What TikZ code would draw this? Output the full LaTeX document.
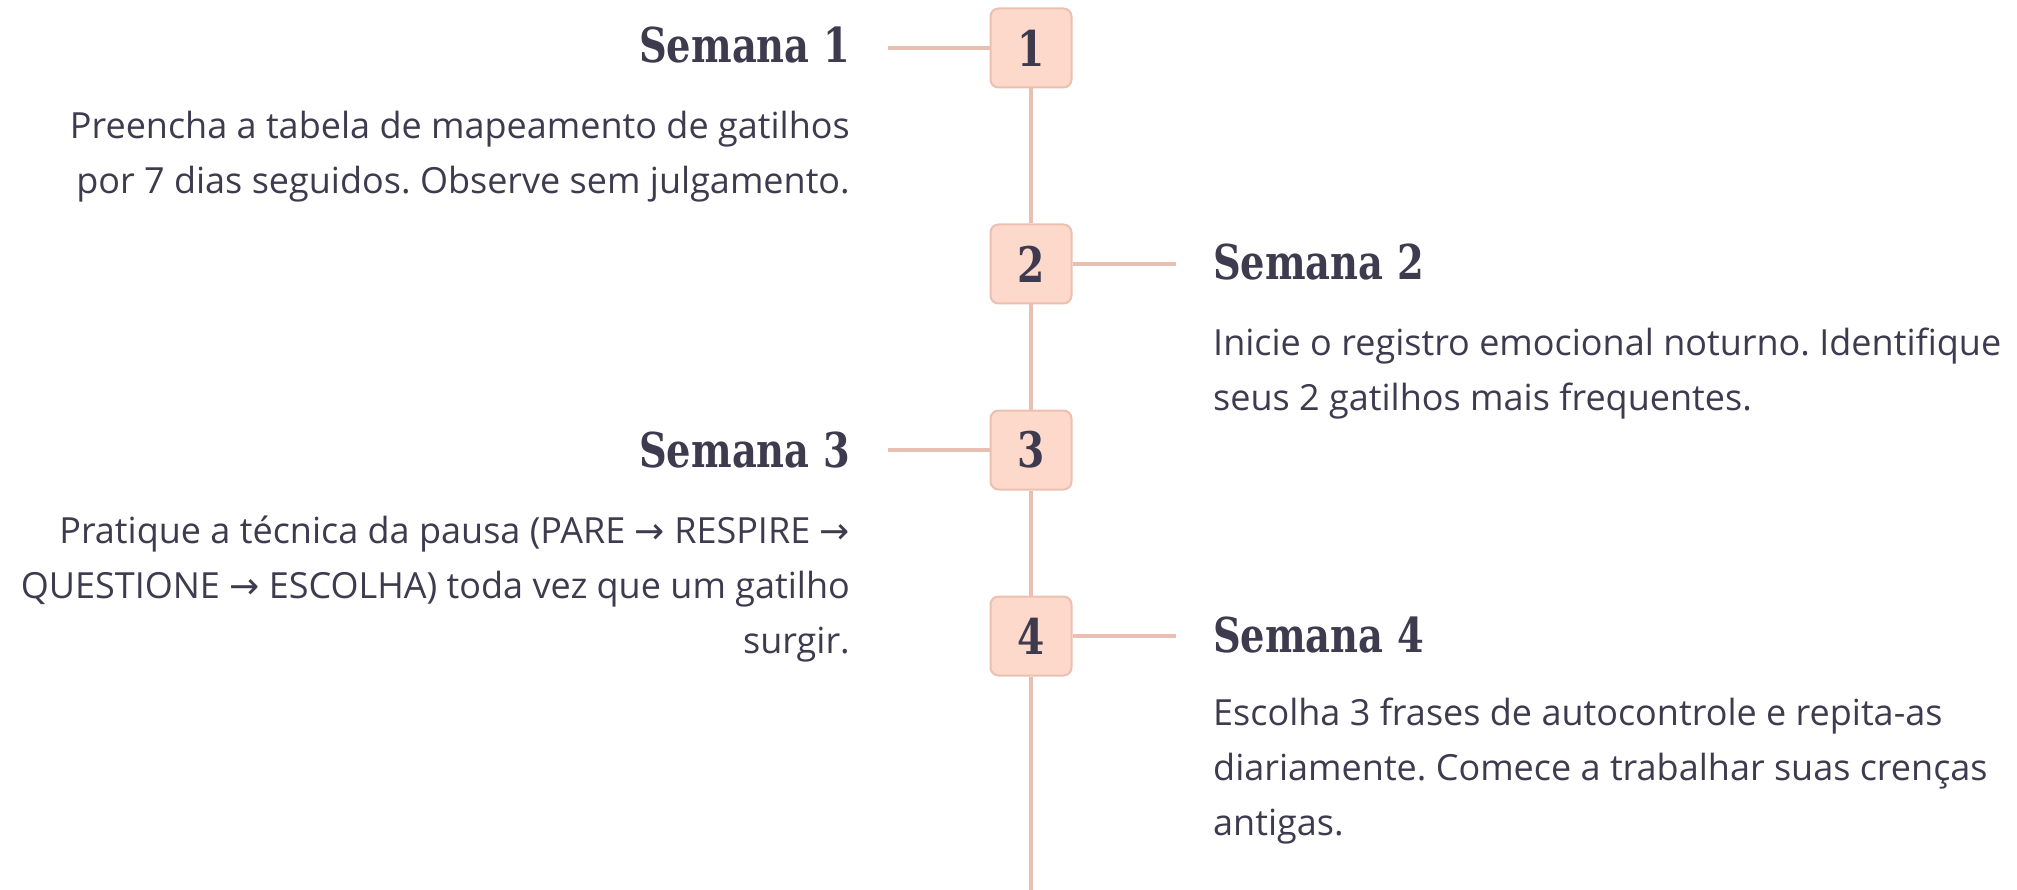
\documentclass[tikz,border=0pt]{standalone}
\usepackage{fontspec}
\setmainfont{Open Sans}
\newfontfamily\headfont[FakeStretch=0.8]{DejaVu Serif}
\newfontfamily\arrowfont{DejaVu Sans}
\newcommand{\goto}{{\arrowfont\fontsize{36}{55}\selectfont →}}
\frenchspacing
\usetikzlibrary{positioning}
\definecolor{ink}{HTML}{3E3B4F}
\definecolor{peach}{HTML}{FDD9CB}
\definecolor{peachline}{HTML}{E8BFB0}
\definecolor{peachedge}{HTML}{EBC0B0}

\tikzset{
  week/.style={rectangle, rounded corners=8pt, draw=peachedge, line width=2pt,
    fill=peach, minimum width=81pt, minimum height=79pt, inner sep=0pt,
    text=ink, font=\headfont\bfseries\fontsize{49}{49}\selectfont},
  title/.style={text=ink, inner sep=0pt,
    font=\headfont\bfseries\fontsize{48}{48}\selectfont},
  body/.style={text=ink, inner sep=0pt, font=\fontsize{36}{55}\selectfont},
  link/.style={draw=peachline, line width=4pt},
}

\begin{document}
\begin{tikzpicture}[x=1pt, y=-1pt]
  \useasboundingbox (0,0) rectangle (2017,890);
  % week boxes on the spine
  \node[week] (w1) at (1031,48) {1};
  \node[week] (w2) at (1031,264) {2};
  \node[week] (w3) at (1031,450) {3};
  \node[week] (w4) at (1031,636) {4};
  \coordinate (end) at (1031,890);
  \coordinate (c1) at (888,48);
  \coordinate (c2) at (1176,264);
  \coordinate (c3) at (888,450);
  \coordinate (c4) at (1176,636);
  % spine and ticks
  \draw[link] (w1) -- (w2);
  \draw[link] (w2) -- (w3);
  \draw[link] (w3) -- (w4);
  \draw[link] (w4) -- (end);
  \draw[link] (c1) -- (w1);
  \draw[link] (w2) -- (c2);
  \draw[link] (c3) -- (w3);
  \draw[link] (w4) -- (c4);
  % titles
  \node[title, anchor=base east] (t1) at (850,63) {Semana 1};
  \node[title, anchor=base west] (t2) at (1213,280) {Semana 2};
  \node[title, anchor=base east] (t3) at (850,467) {Semana 3};
  \node[title, anchor=base west] (t4) at (1213,652) {Semana 4};
  % texts (base = last line)
  \node[body, anchor=base east, align=right] (d1) at (850,194)
    {Preencha a tabela de mapeamento de gatilhos\\por 7 dias seguidos. Observe sem julgamento.};
  \node[body, anchor=base west, align=left] (d2) at (1213,410)
    {Inicie o registro emocional noturno. Identifique\\seus 2 gatilhos mais frequentes.};
  \node[body, anchor=base east, align=right] (d3) at (850,653)
    {Pratique a técnica da pausa (PARE \goto{} RESPIRE \goto\\QUESTIONE \goto{} ESCOLHA) toda vez que um gatilho\\surgir.};
  \node[body, anchor=base west, align=left] (d4) at (1213,835)
    {Escolha 3 frases de autocontrole e repita-as\\diariamente. Comece a trabalhar suas crenças\\antigas.};
\end{tikzpicture}
\end{document}
